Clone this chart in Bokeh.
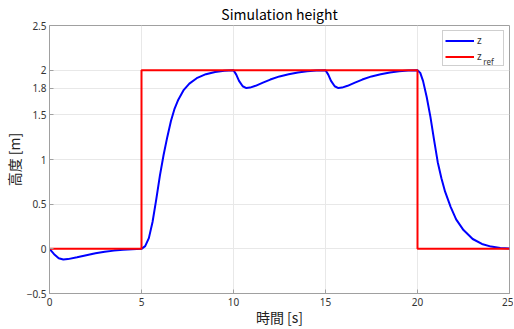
from bokeh.plotting import figure
from bokeh.models import Range1d, FixedTicker, Legend, LegendItem, Label
from bokeh.embed import file_html
from bokeh.resources import INLINE

# ---- data ----
t_z = [0, 0.25, 0.5, 0.75, 1.0, 1.5, 2.0, 2.5, 3.0, 3.5, 4.0, 4.5,
       5.0, 5.2, 5.4, 5.6, 5.8, 6.0, 6.2, 6.4, 6.6, 6.8, 7.0, 7.3, 7.6, 8.0, 8.5, 9.0, 9.5,
       10.0, 10.15, 10.3, 10.5, 10.7, 10.9, 11.2, 11.6, 12.0, 12.5, 13.0, 13.5, 14.0, 14.5,
       15.0, 15.15, 15.3, 15.5, 15.7, 15.9, 16.2, 16.6, 17.0, 17.5, 18.0, 18.5, 19.0, 19.5,
       20.0, 20.15, 20.3, 20.5, 20.7, 20.9, 21.1, 21.3, 21.5, 21.8, 22.1, 22.5, 23.0, 23.5,
       24.0, 24.5, 25.0]
z = [0, -0.06, -0.105, -0.12, -0.115, -0.095, -0.072, -0.05, -0.033, -0.02, -0.01, -0.004,
     0.0, 0.03, 0.12, 0.3, 0.55, 0.82, 1.05, 1.25, 1.43, 1.57, 1.67, 1.78, 1.85, 1.91, 1.955, 1.98, 1.993,
     2.0, 1.95, 1.88, 1.82, 1.80, 1.805, 1.825, 1.86, 1.895, 1.93, 1.955, 1.975, 1.988, 1.996,
     2.0, 1.95, 1.88, 1.82, 1.80, 1.805, 1.825, 1.86, 1.895, 1.93, 1.955, 1.975, 1.988, 1.996,
     2.0, 1.97, 1.88, 1.70, 1.48, 1.22, 0.97, 0.79, 0.64, 0.47, 0.33, 0.21, 0.11, 0.055,
     0.025, 0.01, 0.004]

t_ref = [0, 5, 5, 20, 20, 25]
z_ref = [0, 0, 2, 2, 0, 0]

x_ticks = [0, 5, 10, 15, 20, 25]
y_ticks = [-0.5, 0, 0.5, 1, 1.5, 1.8, 2, 2.5]
y_tick_labels = {-0.5: "\u22120.5", 0: "0", 0.5: "0.5", 1: "1", 1.5: "1.5", 1.8: "1.8", 2: "2", 2.5: "2.5"}

title_text = "Simulation height"
x_label = "時間 [s]"
y_label = "高度 [m]"
legend_labels = ["z", "z "]
legend_sub = "ref"

FONT = "Noto Sans CJK JP"
TICKFONT = "Noto Sans"
AX = "#a0a0a0"

p = figure(frame_width=460, frame_height=268, output_backend="svg", toolbar_location=None,
           x_range=Range1d(0, 25), y_range=Range1d(-0.5, 2.5),
           min_border_left=42, min_border_right=4, min_border_top=19, min_border_bottom=34)
p.title.text = title_text
p.title.align = "center"
p.title.text_font = FONT
p.title.text_font_size = "14px"
p.title.text_font_style = "normal"
p.title.text_color = "#000000"
p.title.offset = 0
p.title.standoff = 3
p.outline_line_color = AX
p.outline_line_width = 1

for ax in (p.xaxis[0], p.yaxis[0]):
    ax.axis_line_color = AX
    ax.major_tick_line_color = AX
    ax.major_tick_in = 4
    ax.major_tick_out = 0
    ax.minor_tick_line_color = None
    ax.major_label_text_font = TICKFONT
    ax.major_label_text_font_size = "10px"
    ax.major_label_text_color = "#333333"
    ax.axis_label_text_font = FONT
    ax.axis_label_text_font_size = "14px"
    ax.axis_label_text_font_style = "normal"
    ax.axis_label_text_color = "#222222"

p.xaxis[0].ticker = FixedTicker(ticks=x_ticks)
p.yaxis[0].ticker = FixedTicker(ticks=y_ticks)
p.yaxis[0].major_label_overrides = y_tick_labels
p.xaxis[0].axis_label = x_label
p.yaxis[0].axis_label = y_label
p.xaxis[0].major_label_standoff = 4
p.xaxis[0].axis_label_standoff = -2
p.yaxis[0].major_label_standoff = 3
p.yaxis[0].axis_label_standoff = 0

p.xgrid.ticker = FixedTicker(ticks=x_ticks)
p.ygrid.ticker = FixedTicker(ticks=y_ticks)
p.grid.grid_line_color = "#e8e8e8"
p.grid.grid_line_width = 1

r_z = p.line(t_z, z, line_color="#0000ff", line_width=2)
r_ref = p.line(t_ref, z_ref, line_color="#ff0000", line_width=2)

legend = Legend(items=[LegendItem(label=legend_labels[0], renderers=[r_z]),
                       LegendItem(label=legend_labels[1], renderers=[r_ref])],
                location="top_right", orientation="vertical",
                glyph_width=29, glyph_height=11, label_height=11, label_width=24,
                label_standoff=3, spacing=2, padding=2, margin=5,
                label_text_font=TICKFONT, label_text_font_size="10px",
                label_text_color="#333333",
                border_line_color=AX, background_fill_alpha=0)
p.add_layout(legend, "center")

# subscript of the second legend entry ("z" + "ref")
sub = Label(x=23.58, y=2.03, text=legend_sub,
            text_font=TICKFONT, text_font_size="8px", text_color="#333333",
            text_baseline="bottom")
p.add_layout(sub, "center")

open("out.html", "w").write(file_html(p, INLINE))
